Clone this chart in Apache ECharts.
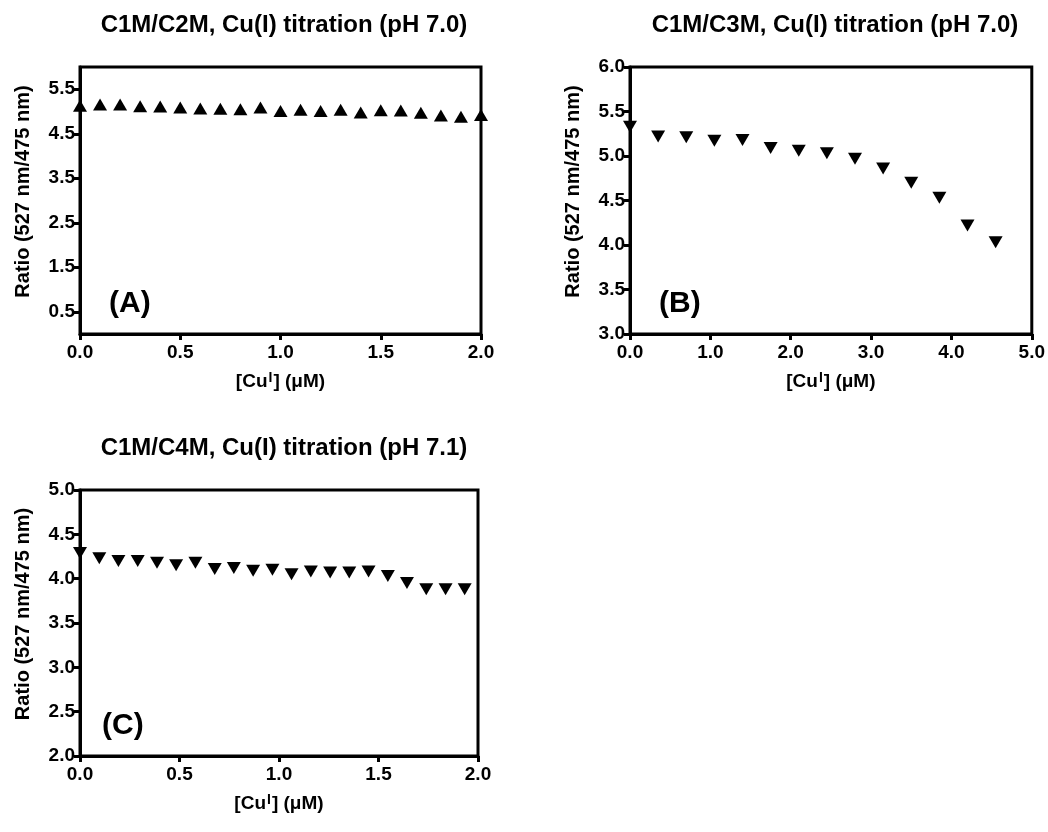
<!DOCTYPE html>
<html><head><meta charset="utf-8">
<script src="https://cdn.jsdelivr.net/npm/echarts@6/dist/echarts.min.js"></script>
<style>html,body{margin:0;padding:0;background:#fff}#c{width:1048px;height:832px}</style>
</head><body><div id="c"></div>
<script>
// Panel A: C1M/C2M
const xA = [0, 0.1, 0.2, 0.3, 0.4, 0.5, 0.6, 0.7, 0.8, 0.9, 1.0, 1.1, 1.2, 1.3, 1.4, 1.5, 1.6, 1.7, 1.8, 1.9, 2.0];
const yA = [5.13, 5.16, 5.16, 5.12, 5.11, 5.09, 5.07, 5.06, 5.05, 5.09, 5.01, 5.04, 5.01, 5.04, 4.98, 5.03, 5.02, 4.97, 4.91, 4.88, 4.92];
const yTicksA = [0.5, 1.5, 2.5, 3.5, 4.5, 5.5];
// Panel B: C1M/C3M
const xB = [0, 0.35, 0.7, 1.05, 1.4, 1.75, 2.1, 2.45, 2.8, 3.15, 3.5, 3.85, 4.2, 4.55];
const yB = [5.33, 5.22, 5.21, 5.17, 5.18, 5.09, 5.06, 5.03, 4.97, 4.86, 4.70, 4.53, 4.22, 4.03];
// Panel C: C1M/C4M
const xC = [0, 0.097, 0.193, 0.29, 0.387, 0.483, 0.58, 0.677, 0.773, 0.87, 0.967, 1.063, 1.16, 1.257, 1.353, 1.45, 1.547, 1.643, 1.74, 1.837, 1.933];
const yC = [4.29, 4.23, 4.20, 4.20, 4.18, 4.15, 4.18, 4.11, 4.12, 4.09, 4.10, 4.05, 4.08, 4.07, 4.07, 4.08, 4.03, 3.95, 3.88, 3.88, 3.88];

const titles = ['C1M/C2M, Cu(I) titration (pH 7.0)', 'C1M/C3M, Cu(I) titration (pH 7.0)', 'C1M/C4M, Cu(I) titration (pH 7.1)'];
const panelLabels = ['(A)', '(B)', '(C)'];
const yName = 'Ratio (527 nm/475 nm)';
const xName = '[Cu{sup|I}] (μM)';

const FONT = '"Liberation Sans", Arial, sans-serif';
const fmt = v => Number(v).toFixed(1);

function xAxis(gi, min, max, interval) {
  return {
    type: 'value', gridIndex: gi, min, max, interval,
    name: xName, nameLocation: 'middle', nameGap: 37,
    nameTextStyle: { fontFamily: FONT, fontWeight: 'bold', fontSize: 19, color: '#000',
      rich: { sup: { fontFamily: FONT, fontWeight: 'bold', fontSize: 14, color: '#000', verticalAlign: 'top', padding: [0, 1, 8, 1] } } },
    axisLine: { show: true, onZero: false, lineStyle: { color: '#000', width: 3 } },
    axisTick: { show: true, length: 6, lineStyle: { color: '#000', width: 3 } },
    axisLabel: { formatter: fmt, fontFamily: FONT, fontWeight: 'bold', fontSize: 19, color: '#000', margin: 9 },
    splitLine: { show: false }
  };
}
function yAxis(gi, min, max, interval, custom) {
  const ax = {
    type: 'value', gridIndex: gi, min, max, interval,
    name: yName, nameLocation: 'middle', nameGap: 47,
    nameTextStyle: { fontFamily: FONT, fontWeight: 'bold', fontSize: 20, color: '#000', padding: [0, 0, 0, 18] },
    axisLine: { show: true, onZero: false, lineStyle: { color: '#000', width: 3 } },
    axisTick: { show: true, length: 6, lineStyle: { color: '#000', width: 3 } },
    axisLabel: { formatter: fmt, fontFamily: FONT, fontWeight: 'bold', fontSize: 19, color: '#000', margin: 5 },
    splitLine: { show: false }
  };
  if (custom) {
    ax.axisTick.customValues = custom;
    ax.axisLabel.customValues = custom;
  }
  return ax;
}
function zip(xs, ys) { return xs.map((x, i) => [x, ys[i]]); }

const markStyle = { color: '#000', opacity: 1 };
const gridBase = { show: true, borderColor: '#000', borderWidth: 3, backgroundColor: 'transparent' };
const option = {
  animation: false,
  backgroundColor: '#fff',
  title: [
    { text: titles[0], left: 279, top: 8, textAlign: 'center' },
    { text: titles[1], left: 830, top: 8, textAlign: 'center' },
    { text: titles[2], left: 279, top: 431, textAlign: 'center' },
    { text: panelLabels[0], left: 104, top: 284 },
    { text: panelLabels[1], left: 654, top: 284 },
    { text: panelLabels[2], left: 97, top: 706 }
  ].map((t, i) => Object.assign(t, {
    textStyle: { fontFamily: FONT, fontWeight: 'bold', fontSize: i < 3 ? 24 : 30, color: '#000' }
  })),
  grid: [
    Object.assign({ left: 80, top: 67, width: 401, height: 267 }, gridBase),
    Object.assign({ left: 630, top: 67, width: 402, height: 267 }, gridBase),
    Object.assign({ left: 80, top: 490, width: 398, height: 266 }, gridBase)
  ],
  xAxis: [xAxis(0, 0, 2, 0.5), xAxis(1, 0, 5, 1), xAxis(2, 0, 2, 0.5)],
  yAxis: [yAxis(0, 0, 6, 0.5, yTicksA), yAxis(1, 3, 6, 0.5), yAxis(2, 2, 5, 0.5)],
  series: [
    { type: 'scatter', xAxisIndex: 0, yAxisIndex: 0, data: zip(xA, yA), symbol: 'triangle', symbolSize: [14, 12], itemStyle: markStyle, clip: false },
    { type: 'scatter', xAxisIndex: 1, yAxisIndex: 1, data: zip(xB, yB), symbol: 'triangle', symbolRotate: 180, symbolSize: [14, 12], itemStyle: markStyle, clip: false },
    { type: 'scatter', xAxisIndex: 2, yAxisIndex: 2, data: zip(xC, yC), symbol: 'triangle', symbolRotate: 180, symbolSize: [14, 12], itemStyle: markStyle, clip: false }
  ]
};
const chart = echarts.init(document.getElementById('c'), null, { renderer: 'canvas' });
chart.setOption(option);
</script></body></html>
